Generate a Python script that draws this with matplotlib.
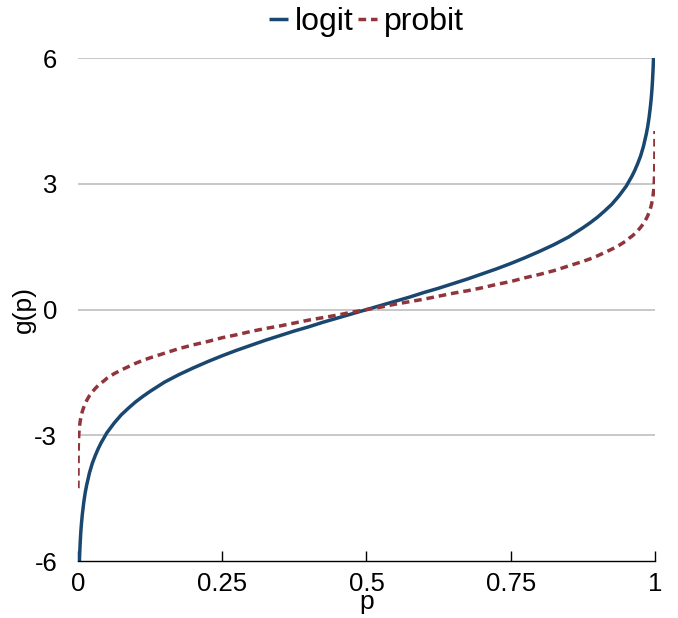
import matplotlib
matplotlib.use("Agg")
import matplotlib.pyplot as plt

plt.rcParams['font.family'] = ['Liberation Sans', 'DejaVu Sans']

# p values (x axis)
p = [0.00001, 0.0001, 0.0005, 0.001, 0.0015, 0.002, 0.0025, 0.003, 0.004, 0.005,
     0.006, 0.0075, 0.01, 0.0125, 0.015, 0.02, 0.025, 0.03, 0.035, 0.04,
     0.045, 0.05, 0.0625, 0.075, 0.0875, 0.1, 0.1125, 0.125, 0.15, 0.175,
     0.2, 0.225, 0.25, 0.275, 0.3, 0.325, 0.35, 0.375, 0.4, 0.425,
     0.45, 0.475, 0.5,
     0.525, 0.55, 0.575, 0.6, 0.625, 0.65, 0.675, 0.7, 0.725, 0.75,
     0.775, 0.8, 0.825, 0.85, 0.875, 0.8875, 0.9, 0.9125, 0.925, 0.9375,
     0.95, 0.955, 0.96, 0.965, 0.97, 0.975, 0.98, 0.985, 0.9875, 0.99,
     0.9925, 0.994, 0.995, 0.996, 0.997, 0.9975, 0.998, 0.9985, 0.999, 0.9995,
     0.9999, 0.99999]

# logit g(p)
logit = [-11.51, -9.21, -7.60, -6.91, -6.50, -6.21, -5.99, -5.81, -5.52, -5.29,
         -5.11, -4.89, -4.60, -4.37, -4.19, -3.89, -3.66, -3.48, -3.32, -3.18,
         -3.06, -2.94, -2.71, -2.51, -2.35, -2.20, -2.07, -1.95, -1.73, -1.55,
         -1.39, -1.24, -1.10, -0.97, -0.85, -0.73, -0.62, -0.51, -0.41, -0.30,
         -0.20, -0.10, 0.00,
         0.10, 0.20, 0.30, 0.41, 0.51, 0.62, 0.73, 0.85, 0.97, 1.10,
         1.24, 1.39, 1.55, 1.73, 1.95, 2.07, 2.20, 2.35, 2.51, 2.71,
         2.94, 3.06, 3.18, 3.32, 3.48, 3.66, 3.89, 4.19, 4.37, 4.60,
         4.89, 5.11, 5.29, 5.52, 5.81, 5.99, 6.21, 6.50, 6.91, 7.60,
         9.21, 11.51]

# probit g(p)
probit = [-4.26, -3.72, -3.29, -3.09, -2.97, -2.88, -2.81, -2.75, -2.65, -2.58,
          -2.51, -2.43, -2.33, -2.24, -2.17, -2.05, -1.96, -1.88, -1.81, -1.75,
          -1.70, -1.64, -1.53, -1.44, -1.36, -1.28, -1.21, -1.15, -1.04, -0.93,
          -0.84, -0.76, -0.67, -0.60, -0.52, -0.45, -0.39, -0.32, -0.25, -0.19,
          -0.13, -0.06, 0.00,
          0.06, 0.13, 0.19, 0.25, 0.32, 0.39, 0.45, 0.52, 0.60, 0.67,
          0.76, 0.84, 0.93, 1.04, 1.15, 1.21, 1.28, 1.36, 1.44, 1.53,
          1.64, 1.70, 1.75, 1.81, 1.88, 1.96, 2.05, 2.17, 2.24, 2.33,
          2.43, 2.51, 2.58, 2.65, 2.75, 2.81, 2.88, 2.97, 3.09, 3.29,
          3.72, 4.26]

xticks = [0, 0.25, 0.5, 0.75, 1]
xticklabels = ['0', '0.25', '0.5', '0.75', '1']
yticks = [-6, -3, 0, 3, 6]
yticklabels = ['-6', '-3', '0', '3', '6']

fig = plt.figure(figsize=(6.78, 6.18), dpi=100)
ax = fig.add_axes([0.115, 0.092, 0.851, 0.814])

for y in [-3, 0, 3, 6]:
    ax.axhline(y, color='#c8c8c8', lw=1.4, zorder=0)

ax.plot(p, logit, color='#1a476f', lw=2.5, label='logit', solid_capstyle='butt')
ax.plot(p, probit, color='#90353b', lw=2.5, label='probit',
        linestyle=(0, (2.2, 1.4)), dash_capstyle='butt')

ax.set_xlim(0, 1)
ax.set_ylim(-6, 6)
ax.set_xticks(xticks)
ax.set_xticklabels(xticklabels)
ax.set_yticks(yticks)
ax.set_yticklabels(yticklabels)

for s in ['top', 'right', 'left']:
    ax.spines[s].set_visible(False)
ax.spines['bottom'].set_color('black')
ax.spines['bottom'].set_linewidth(1.0)

ax.tick_params(axis='x', direction='in', length=7, width=1, labelsize=18.5, pad=8)
ax.tick_params(axis='y', length=0, labelsize=18.5, pad=15)

ax.set_xlabel('p', fontsize=19, va='baseline')
ax.xaxis.set_label_coords(0.5, -0.096)
ax.set_ylabel('g(p)', fontsize=19, labelpad=-1)

leg = ax.legend(loc='center', bbox_to_anchor=(0.5, 1.071), ncol=2, frameon=False,
                fontsize=23, handlelength=0.6, handletextpad=0.2, columnspacing=0.15,
                borderpad=0.0, borderaxespad=0.0)

fig.savefig('out.png', dpi=100)
